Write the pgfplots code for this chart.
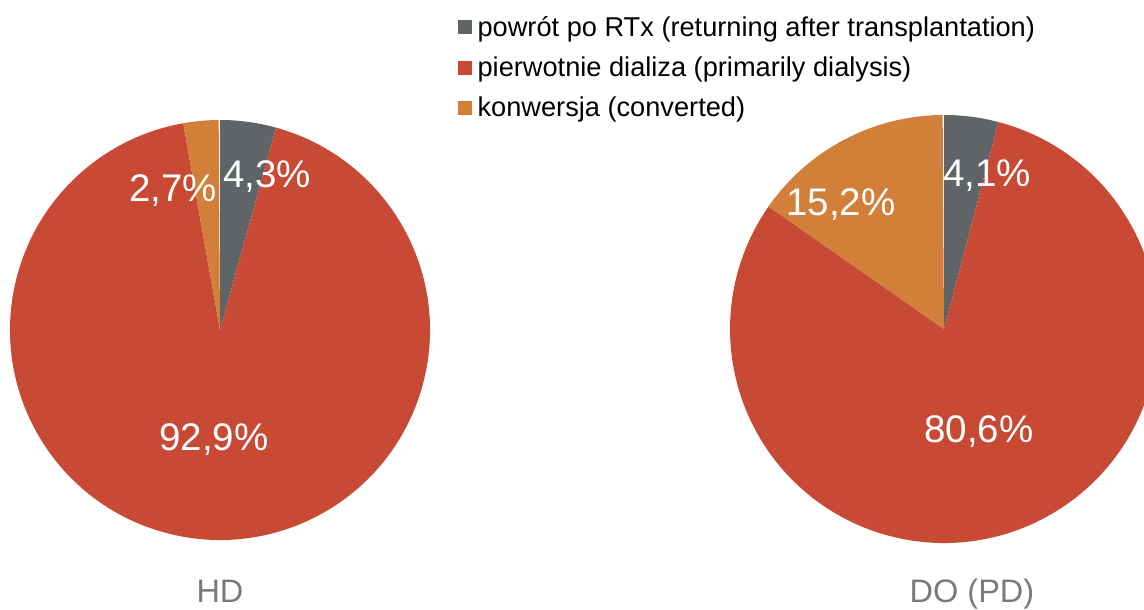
\documentclass[border=0pt]{standalone}
\usepackage{fontspec}
\setmainfont{Liberation Sans}
\usepackage{pgfplots}
\usepackage{pgfplotstable}
\pgfplotsset{compat=1.18}
\usetikzlibrary{calc}

\definecolor{cGray}{HTML}{5F6566}
\definecolor{cRed}{HTML}{C84A35}
\definecolor{cOrange}{HTML}{D27F3A}
\definecolor{cLabel}{HTML}{7A7A7A}

% share of each group, in percent
\pgfplotstableread{
slice HD PD
0 4.3 4.1
1 92.9 80.6
2 2.7 15.2
}\piedata

% cx, cy, r, start angle, end angle, colour
\newcommand{\pieslice}[6]{%
  \fill[#6] (axis cs:#1,#2) -- ($(axis cs:#1,#2)+(#4:#3pt)$)
    arc[start angle=#4, end angle=#5, radius=#3pt] -- cycle;}

\newcommand{\getshare}[3]{%
  \pgfplotstablegetelem{#1}{#2}\of\piedata
  \pgfmathsetmacro#3{\pgfplotsretval}}

\begin{document}
\begin{tikzpicture}
  \getshare{0}{HD}\hdA \getshare{1}{HD}\hdB \getshare{2}{HD}\hdC
  \getshare{0}{PD}\pdA \getshare{1}{PD}\pdB \getshare{2}{PD}\pdC
  \pgfmathsetmacro\hdAngA{90-3.6*\hdA}
  \pgfmathsetmacro\hdAngB{\hdAngA-3.6*\hdB}
  \pgfmathsetmacro\hdAngC{\hdAngB-3.6*\hdC}
  \pgfmathsetmacro\pdAngA{90-3.6*\pdA}
  \pgfmathsetmacro\pdAngB{\pdAngA-3.6*\pdB}
  \pgfmathsetmacro\pdAngC{\pdAngB-3.6*\pdC}
  \begin{axis}[
      scale only axis,
      width=1144pt, height=610pt,
      xmin=0, xmax=1144, ymin=0, ymax=610,
      enlargelimits=false,
      hide axis,
      clip=true,
      legend style={
        at={(axis cs:458,596)}, anchor=north west,
        draw=none, fill=none, inner sep=0pt,
        font=\fontsize{27.2}{30}\selectfont,
        row sep=15pt,
        cells={anchor=west},
        /tikz/every odd column/.append style={column sep=4pt},
        /tikz/every even column/.append style={column sep=0pt},
      },
      legend image code/.code={\fill[#1] (0pt,-6.5pt) rectangle (13pt,6.5pt);},
    ]
    \addlegendimage{cGray}
    \addlegendentry{powrót po RTx (returning after transplantation)}
    \addlegendimage{cRed}
    \addlegendentry{pierwotnie dializa (primarily dialysis)}
    \addlegendimage{cOrange}
    \addlegendentry{konwersja (converted)}

    % HD
    \pieslice{220}{280}{210}{90}{\hdAngA}{cGray}
    \pieslice{220}{280}{210}{\hdAngA}{\hdAngB}{cRed}
    \pieslice{220}{280}{210}{\hdAngB}{\hdAngC}{cOrange}
    % DO (PD)
    \pieslice{944}{281}{214}{90}{\pdAngA}{cGray}
    \pieslice{944}{281}{214}{\pdAngA}{\pdAngB}{cRed}
    \pieslice{944}{281}{214}{\pdAngB}{\pdAngC}{cOrange}

    \begin{scope}[every node/.style={anchor=base, text=white, inner sep=0pt,
        font=\fontsize{38.5}{40}\selectfont}]
      \node at (axis cs:267,422) {4,3\%};
      \node at (axis cs:173,408) {2,7\%};
      \node at (axis cs:214,159) {92,9\%};
      \node at (axis cs:987,423) {4,1\%};
      \node at (axis cs:841,394) {15,2\%};
      \node at (axis cs:979,167) {80,6\%};
    \end{scope}
    \begin{scope}[every node/.style={anchor=base, text=cLabel, inner sep=0pt,
        font=\fontsize{32.5}{34}\selectfont}]
      \node at (axis cs:220,7) {HD};
      \node at (axis cs:972,7) {DO (PD)};
    \end{scope}
  \end{axis}
  \pgfresetboundingbox
  \path[use as bounding box] (current axis.south west) rectangle (current axis.north east);
\end{tikzpicture}
\end{document}
